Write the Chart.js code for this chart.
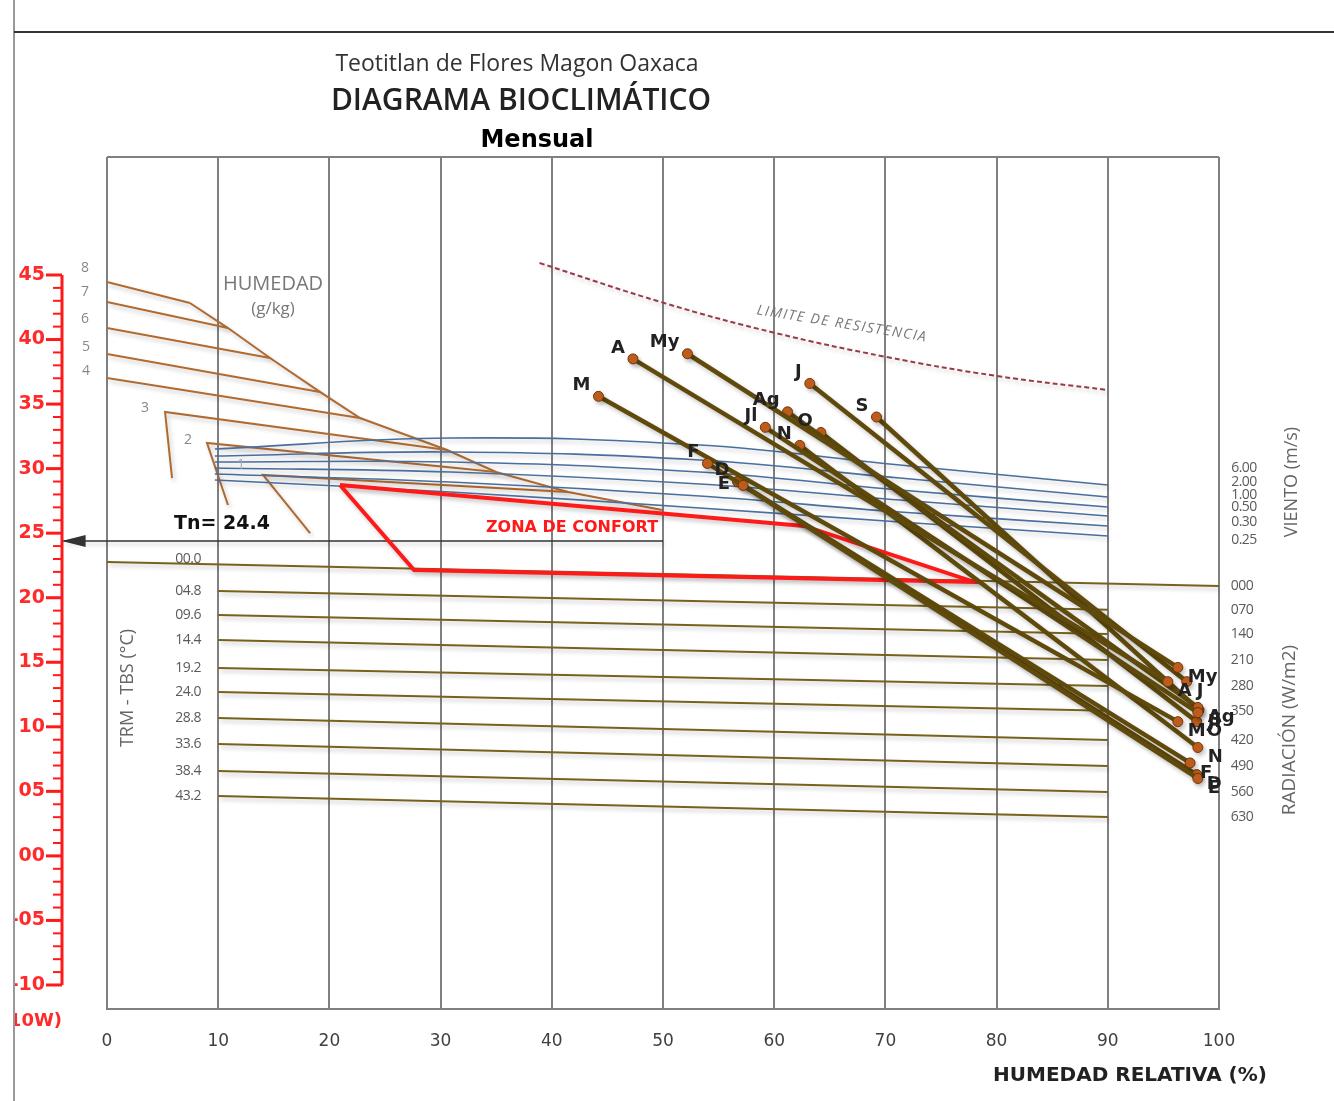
<!DOCTYPE html>
<html>
<head>
<meta charset="utf-8">
<script src="https://cdn.jsdelivr.net/npm/chart.js@4.4.0/dist/chart.umd.min.js"></script>
<style>
  body { margin: 0; background: #fff; }
  canvas { display: block; }
</style>
</head>
<body>
<canvas id="chart" width="1334" height="1101"></canvas>
<script>
// months: upper point = (RH min, T max), lower point = (RH max, T min)
const months = ['E', 'F', 'M', 'A', 'My', 'J', 'Jl', 'Ag', 'S', 'O', 'N', 'D']
const rhMin = [57.2, 54.0, 44.2, 47.3, 52.2, 63.2, 59.2, 61.2, 69.2, 64.2, 62.3, 56.7]
const tMax = [28.7, 30.4, 35.6, 38.5, 38.9, 36.6, 33.2, 34.4, 34.0, 32.8, 31.8, 29.0]
const rhMax = [98.1, 97.4, 96.3, 95.4, 96.3, 97.1, 98.1, 98.1, 98.2, 98.0, 98.1, 98.0]
const tMin = [6.0, 7.2, 10.4, 13.5, 14.6, 13.5, 11.1, 11.5, 11.3, 10.4, 8.4, 6.3]

const tn = 24.4

// humidity (g/kg) lines, [RH, T]
const hum1 = [[0, 44.46], [7.46, 42.83]]
const hum2 = [[0, 42.91], [10.88, 40.89]]
const hum3 = [[0, 40.89], [14.66, 38.57]]
const hum4 = [[0, 38.88], [19.15, 35.94]]
const hum5 = [[0, 37.02], [22.75, 33.92]]
const humB3 = [[5.85, 29.27], [5.22, 34.39], [30.58, 31.44]]
const humB2 = [[10.88, 27.18], [8.99, 31.99], [34.98, 29.74]]
const humB1 = [[18.26, 25.01], [14.03, 29.51], [41.46, 28.19]]
const satCurve = [[7.46, 42.83], [10.88, 40.89], [14.66, 38.57], [19.15, 35.94], [22.75, 33.92],
  [30.58, 31.44], [34.98, 29.74], [41.46, 28.19], [49.91, 26.80]]
const humLabels = ['8', '7', '6', '5', '4', '3', '2', '1']

// wind lines (m/s)
const windRH = [9.7, 30.9, 53.3, 71.3, 90.0]
const wind600 = [31.52, 32.37, 31.83, 30.28, 28.73]
const wind200 = [30.98, 31.29, 30.67, 29.27, 27.80]
const wind100 = [30.51, 30.51, 29.74, 28.34, 27.03]
const wind050 = [30.05, 29.74, 28.81, 27.57, 26.33]
const wind030 = [29.58, 28.96, 27.88, 26.64, 25.56]
const wind025 = [29.12, 28.19, 26.95, 25.87, 24.78]
const windLabels = ['6.00', '2.00', '1.00', '0.50', '0.30', '0.25']

// radiation lines
const radStartRH = [0, 10, 10, 10, 10, 10, 10, 10, 10, 10]
const radEndRH = [100, 90, 90, 90, 90, 90, 90, 90, 90, 90]
const radLeft = [22.77, 20.52, 18.66, 16.72, 14.56, 12.70, 10.69, 8.67, 6.58, 4.64]
const radRight = [20.91, 19.06, 17.19, 15.18, 13.17, 11.24, 8.98, 6.97, 4.95, 3.01]
const radLeftLabels = ['00.0', '04.8', '09.6', '14.4', '19.2', '24.0', '28.8', '33.6', '38.4', '43.2']
const radRightLabels = ['000', '070', '140', '210', '280', '350', '420', '490', '560', '630']

// limite de resistencia
const limitRH = [38.9, 50.1, 60.1, 70.1, 80.0, 90.0]
const limitT = [45.93, 42.83, 40.51, 38.65, 37.18, 36.09]

// zona de confort
const comfortRH = [20.95, 62.68, 77.97, 27.61, 20.95]
const comfortT = [28.73, 25.56, 21.22, 22.15, 28.73]

const tempTicks = [45, 40, 35, 30, 25, 20, 15, 10, 5, 0, -5, -10]
const tempTickLabels = ['45', '40', '35', '30', '25', '20', '15', '10', '05', '00', '-05', '-10']

const toPts = arr => arr.map(p => ({ x: p[0], y: p[1] }))

const datasets = []

// month lines on top (first dataset is drawn last)
months.forEach((m, i) => {
  datasets.push({
    data: [{ x: rhMin[i], y: tMax[i] }, { x: rhMax[i], y: tMin[i] }],
    showLine: true,
    borderColor: '#5f4a0c',
    borderWidth: 4.5,
    pointRadius: 5,
    pointBackgroundColor: '#c35f1d',
    pointBorderColor: '#6e3504',
    pointBorderWidth: 1
  })
})

datasets.push({
  data: comfortRH.map((x, i) => ({ x, y: comfortT[i] })),
  showLine: true, borderColor: '#ff1a1a', borderWidth: 4, pointRadius: 0
})

datasets.push({
  data: [{ x: 50, y: tn }, { x: -3.9, y: tn }],
  showLine: true, borderColor: '#333333', borderWidth: 1.5, pointRadius: 0, clip: false
})

radLeft.forEach((v, i) => {
  datasets.push({
    data: [{ x: radStartRH[i], y: v }, { x: radEndRH[i], y: radRight[i] }],
    showLine: true, borderColor: '#76621c', borderWidth: 2, pointRadius: 0
  })
})

;[wind600, wind200, wind100, wind050, wind030, wind025].forEach(w => {
  datasets.push({
    data: windRH.map((x, i) => ({ x, y: w[i] })),
    showLine: true, borderColor: '#4a6e9e', borderWidth: 1.6, pointRadius: 0, tension: 0.4
  })
})

;[hum1, hum2, hum3, hum4, hum5, humB3, humB2, humB1, satCurve].forEach(h => {
  datasets.push({
    data: toPts(h),
    showLine: true, borderColor: '#b06a30', borderWidth: 2, pointRadius: 0
  })
})

datasets.push({
  data: limitRH.map((x, i) => ({ x, y: limitT[i] })),
  showLine: true, borderColor: '#9a3a48', borderWidth: 2, borderDash: [5, 3], pointRadius: 0, tension: 0.4
})

function txt(ctx, s, x, y, font, color, align = 'center', rot = 0, spacing = '0px') {
  ctx.save()
  ctx.translate(x, y)
  ctx.rotate(rot)
  ctx.font = font
  ctx.letterSpacing = spacing
  ctx.fillStyle = color
  ctx.textAlign = align
  ctx.textBaseline = 'middle'
  ctx.fillText(s, 0, 0)
  ctx.restore()
}

const shadowPlugin = {
  id: 'shadow',
  beforeDatasetDraw(chart) {
    const ctx = chart.ctx
    ctx.save()
    ctx.shadowColor = 'rgba(0,0,0,0.22)'
    ctx.shadowBlur = 4
    ctx.shadowOffsetX = 2
    ctx.shadowOffsetY = 3
  },
  afterDatasetDraw(chart) {
    chart.ctx.restore()
  }
}

const decor = {
  id: 'decor',
  afterDraw(chart) {
    const ctx = chart.ctx
    const xs = chart.scales.x, ys = chart.scales.y
    const area = chart.chartArea

    // page frame
    ctx.save()
    ctx.strokeStyle = '#999'
    ctx.lineWidth = 2
    ctx.beginPath(); ctx.moveTo(14, 0); ctx.lineTo(14, 1101); ctx.stroke()
    ctx.strokeStyle = '#333'
    ctx.beginPath(); ctx.moveTo(14, 32); ctx.lineTo(1334, 32); ctx.stroke()
    // plot top border
    ctx.strokeStyle = '#808080'
    ctx.beginPath(); ctx.moveTo(area.left, area.top); ctx.lineTo(area.right, area.top); ctx.stroke()
    ctx.restore()

    // titles
    txt(ctx, 'Teotitlan de Flores Magon Oaxaca', 517, 64, '23px "Open Sans"', '#333')
    txt(ctx, 'DIAGRAMA BIOCLIMÁTICO', 521, 101, '600 30px "Open Sans"', '#222')
    txt(ctx, 'Mensual', 537, 141, 'bold 24px "DejaVu Sans"', '#000')
    txt(ctx, 'HUMEDAD RELATIVA (%)', 1130, 1076, 'bold 20px "DejaVu Sans"', '#222')

    // red temperature axis
    const ax = 62
    ctx.save()
    ctx.strokeStyle = '#ff1a1a'
    ctx.lineWidth = 3
    ctx.beginPath(); ctx.moveTo(ax, ys.getPixelForValue(45)); ctx.lineTo(ax, ys.getPixelForValue(-10)); ctx.stroke()
    for (let v = 45; v >= -10; v--) {
      const y = ys.getPixelForValue(v)
      const major = v % 5 === 0
      ctx.lineWidth = major ? 3 : 2
      ctx.beginPath(); ctx.moveTo(major ? 46 : 53, y); ctx.lineTo(ax, y); ctx.stroke()
    }
    ctx.restore()
    ctx.save()
    ctx.beginPath(); ctx.rect(15, 0, 1334, 1101); ctx.clip()
    tempTicks.forEach((v, i) => {
      txt(ctx, tempTickLabels[i], 45, ys.getPixelForValue(v), 'bold 19px "DejaVu Sans"', '#ff2a2a', 'right')
    })
    txt(ctx, '(10W)', 62, 1021, 'bold 18px "DejaVu Sans"', '#ff2a2a', 'right')
    ctx.restore()

    // Tn arrow head
    const ty = ys.getPixelForValue(tn)
    const tx = xs.getPixelForValue(-3.9)
    ctx.save()
    ctx.fillStyle = '#333'
    ctx.beginPath(); ctx.moveTo(tx - 2, ty); ctx.lineTo(tx + 22, ty - 6); ctx.lineTo(tx + 22, ty + 6); ctx.closePath(); ctx.fill()
    ctx.restore()
    txt(ctx, 'Tn= 24.4', 222, 524, 'bold 19px "DejaVu Sans"', '#111')
    txt(ctx, 'ZONA DE CONFORT', 572, 528, 'bold 16px "DejaVu Sans"', '#ff1a1a')

    // humidity labels
    txt(ctx, 'HUMEDAD', 273, 284, '20px "Open Sans"', '#777')
    txt(ctx, '(g/kg)', 273, 309, '17px "Open Sans"', '#777')
    const humPos = [[85, 268], [85, 292], [85, 319], [86, 347], [86, 371], [145, 408], [188, 440], [241, 465]]
    humLabels.forEach((s, i) => txt(ctx, s, humPos[i][0], humPos[i][1], '14px "Open Sans"', i === 7 ? '#aaa' : '#888'))

    txt(ctx, 'LIMITE DE RESISTENCIA', 842, 324, 'italic 14px "Open Sans"', '#777', 'center', 0.16, '1.5px')

    // radiation labels
    radLeftLabels.forEach((s, i) => {
      const y = i === 0 ? ys.getPixelForValue(radLeft[0]) - 3 : ys.getPixelForValue(radLeft[i])
      txt(ctx, s, 201, y, '14px "Open Sans"', '#5a5a5a', 'right', 0, '-0.5px')
    })
    radRightLabels.forEach((s, i) => {
      txt(ctx, s, 1242, ys.getPixelForValue(radRight[i]), '14px "Open Sans"', '#5a5a5a', 'center', 0, '-0.5px')
    })
    const windY = [468, 482, 495, 507, 522, 540]
    windLabels.forEach((s, i) => txt(ctx, s, 1244, windY[i], '14px "Open Sans"', '#5a5a5a', 'center', 0, '-0.5px'))

    txt(ctx, 'TRM - TBS (°C)', 128, 688, '18px "Open Sans"', '#666', 'center', -Math.PI / 2)
    txt(ctx, 'VIENTO (m/s)', 1292, 482, '18px "Open Sans"', '#666', 'center', -Math.PI / 2)
    txt(ctx, 'RADIACIÓN (W/m2)', 1290, 730, '19px "Open Sans"', '#666', 'center', -Math.PI / 2)

    // month labels
    months.forEach((m, i) => {
      const x1 = xs.getPixelForValue(rhMin[i]), y1 = ys.getPixelForValue(tMax[i])
      const x2 = xs.getPixelForValue(rhMax[i]), y2 = ys.getPixelForValue(tMin[i])
      if (m === 'E') txt(ctx, m, x1 - 13, y1 - 1, 'bold 18px "DejaVu Sans"', '#222', 'right')
      else txt(ctx, m, x1 - 8, y1 - 11, 'bold 18px "DejaVu Sans"', '#222', 'right')
      txt(ctx, m, x2 + 10, y2 + 10, 'bold 18px "DejaVu Sans"', '#222', 'left')
    })
  }
}

new Chart(document.querySelector('#chart'), {
  type: 'scatter',
  data: { datasets },
  options: {
    responsive: false,
    devicePixelRatio: 1,
    animation: false,
    events: [],
    layout: { padding: { left: 107, right: 115, top: 157, bottom: 52 } },
    plugins: { legend: { display: false }, tooltip: { enabled: false } },
    scales: {
      x: {
        type: 'linear', min: 0, max: 100,
        afterFit(scale) { scale.height = 40 },
        ticks: { stepSize: 10, color: '#404040', padding: 22, font: { family: 'DejaVu Sans', size: 17 } },
        grid: { color: '#808080', lineWidth: 2, drawTicks: false },
        border: { color: '#808080', width: 2 }
      },
      y: { type: 'linear', min: -11.86, max: 54.14, display: false }
    }
  },
  plugins: [shadowPlugin, decor]
})
</script>
</body>
</html>
